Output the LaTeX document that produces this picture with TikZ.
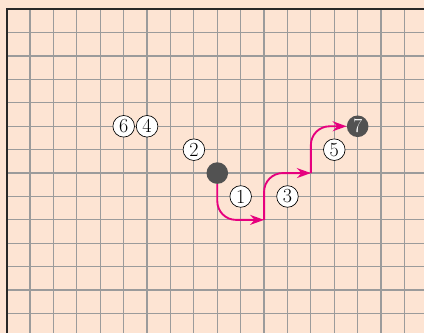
\documentclass[tikz,border=0pt]{standalone}
\usetikzlibrary{arrows.meta}
\definecolor{boardbg}{RGB}{253,228,211}
\definecolor{gridgray}{RGB}{155,155,155}
\definecolor{stonegray}{RGB}{82,82,82}
\definecolor{movemag}{RGB}{230,0,126}
\definecolor{borderdark}{RGB}{40,40,40}
\begin{document}
\begin{tikzpicture}[x=17.55pt,y=17.55pt,
  gridline/.style={draw=gridgray,line width=0.9pt},
  borderline/.style={draw=borderdark,line width=1.5pt,line join=miter},
  blackstone/.style={circle,fill=stonegray,minimum size=16.2pt,inner sep=0pt,text=white,font=\fontsize{15}{15}\selectfont},
  whitestone/.style={circle,draw=black,line width=0.5pt,fill=white,minimum size=16.2pt,inner sep=0pt,font=\fontsize{15}{15}\selectfont},
  move/.style={draw=movemag,line width=1.4pt,rounded corners=14pt,-{Stealth[length=10.5pt,width=7.5pt]}}]
\fill[boardbg] (-0.286,0.397) rectangle (17.834,-13.833);
\useasboundingbox (-0.286,0.397) rectangle (17.834,-13.833);
\draw[gridline] (1,0) -- (1,-13.833) (2,0) -- (2,-13.833) (3,0) -- (3,-13.833)
  (4,0) -- (4,-13.833) (5,0) -- (5,-13.833) (6,0) -- (6,-13.833)
  (7,0) -- (7,-13.833) (8,0) -- (8,-13.833) (9,0) -- (9,-13.833)
  (10,0) -- (10,-13.833) (11,0) -- (11,-13.833) (12,0) -- (12,-13.833)
  (13,0) -- (13,-13.833) (14,0) -- (14,-13.833) (15,0) -- (15,-13.833)
  (16,0) -- (16,-13.833) (17,0) -- (17,-13.833);
\draw[gridline] (0,-1) -- (17.834,-1) (0,-2) -- (17.834,-2) (0,-3) -- (17.834,-3)
  (0,-4) -- (17.834,-4) (0,-5) -- (17.834,-5) (0,-6) -- (17.834,-6)
  (0,-7) -- (17.834,-7) (0,-8) -- (17.834,-8) (0,-9) -- (17.834,-9)
  (0,-10) -- (17.834,-10) (0,-11) -- (17.834,-11) (0,-12) -- (17.834,-12)
  (0,-13) -- (17.834,-13);
\draw[borderline] (0,-13.833) -- (0,0) -- (17.834,0);
% stones
\node[blackstone] (s) at (9,-7) {};
\node[blackstone] (s7) at (15,-5) {7};
\node[whitestone] (w1) at (10,-8) {1};
\node[whitestone] (w2) at (8,-6) {2};
\node[whitestone] (w3) at (12,-8) {3};
\node[whitestone] (w4) at (6,-5) {4};
\node[whitestone] (w5) at (14,-6) {5};
\node[whitestone] (w6) at (5,-5) {6};
% moves
\coordinate (p1) at (11,-9);
\coordinate (p2) at (13,-7);
\draw[move] (s.south) |- (p1);
\draw[move] (p1) |- (p2);
\draw[move] (p2) |- (s7.west);
\end{tikzpicture}
\end{document}
